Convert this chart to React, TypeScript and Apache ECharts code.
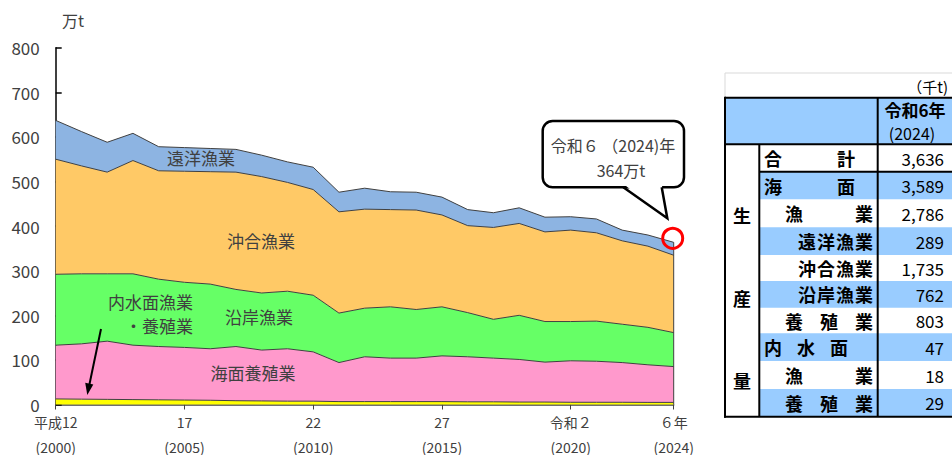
import React, { useEffect, useRef } from 'react';
import * as echarts from 'echarts';

const years = ['2000','2001','2002','2003','2004','2005','2006','2007','2008','2009','2010','2011','2012','2013','2014','2015','2016','2017','2018','2019','2020','2021','2022','2023','2024'];
const inland = [12.5,12,11.5,11,10.5,10,9.5,8.5,8,7.5,7.5,6.5,6.5,6.5,6.5,6.5,6,6,5.5,5.5,5,5,5,4.7,4.7];
const aquaculture = [120.5,124,130.5,122,119.5,118,115.5,121.5,114,117.5,110.5,87.5,100.5,97.5,97.5,102.5,101,98,95.5,89.5,93,92,89,84.3,80.3];
const coastal = [159,157,151,160,151,146,145,128,128,129,127,111,109,115,109,110,99,87,99,91,88,90,86,84,76.2];
const offshore = [258,242,228,254,243,249,252,263,261,244,237,227,222,218,223,206,195,206,206,201,205,198,187,182,173.5];
const distant = [87,77,67,61,54,53,52,51,48,46,50,44,47,40,40,40,36,33,35,33,30,31,24,25,28.9];

const tickYears = ['2000','2005','2010','2015','2020','2024'];
const tickLabelsTop = ['平成12','17','22','27','令和２','６年'];
const tickLabelsBottom = ['(2000)','(2005)','(2010)','(2015)','(2020)','(2024)'];

const seriesNames = ['内水面漁業・養殖業','海面養殖業','沿岸漁業','沖合漁業','遠洋漁業'];
const seriesColors = ['#FFFF00','#FF99CC','#66FF66','#FFC966','#8DB4E2'];

const tableRowLabels = ['合計','海面','漁業','遠洋漁業','沖合漁業','沿岸漁業','養殖業','内水面','漁業','養殖業'];
const tableRowValues = ['3,636','3,589','2,786','289','1,735','762','803','47','18','29'];
const tableSideLabels = ['生','産','量'];

const FONT = '"Noto Sans CJK JP", "Noto Sans", sans-serif';
const TXT = '#404040';
const BLUE = '#99CCFF';

function text(x: number, y: number, s: string, size: number, align = 'center', weight = 'normal', color = TXT) {
  return {
    type: 'text', x, y, silent: true, z: 100,
    style: { text: s, fill: color, fontSize: size, fontFamily: FONT, fontWeight: weight, align, verticalAlign: 'middle' },
  };
}
function line(x1: number, y1: number, x2: number, y2: number, w = 2, color = '#000') {
  return { type: 'line', silent: true, z: 100, shape: { x1, y1, x2, y2 }, style: { stroke: color, lineWidth: w } };
}

function buildTable() {
  const els: any[] = [];
  const x0 = 725, x1 = 759.3, x2 = 877.7, xR = 962;
  const yTop = 73, yHead = 97.7;
  const rows = [144.3, 171.7, 199.3, 227.3, 255, 281, 307.7, 333.3, 361, 389, 416.7];
  els.push({ type: 'rect', silent: true, z: 50, shape: { x: x0, y: yTop, width: xR - x0, height: yHead - yTop }, style: { fill: '#fff', stroke: '#D9D9D9', lineWidth: 1 } });
  els.push(text(948, 86, '（千t)', 15, 'right', 'normal', '#000'));
  els.push({ type: 'rect', silent: true, z: 50, shape: { x: x0, y: yHead, width: xR - x0, height: rows[0] - yHead }, style: { fill: BLUE } });
  els.push(text(915, 109, '令和6年', 17, 'center', 'bold', '#000'));
  els.push(text(912, 133, '(2024)', 16, 'center', 'normal', '#000'));
  for (let i = 0; i < tableRowLabels.length; i++) {
    if (i % 2 === 1) {
      els.push({ type: 'rect', silent: true, z: 50, shape: { x: x1, y: rows[i], width: xR - x1, height: rows[i + 1] - rows[i] }, style: { fill: BLUE } });
    }
  }
  const spans: [number, number][] = [[764, 855], [764, 855], [785, 873], [798, 873], [798, 873], [798, 873], [785, 873], [764, 848], [785, 873], [785, 873]];
  const fs = 18;
  for (let i = 0; i < tableRowLabels.length; i++) {
    const cy = (rows[i] + rows[i + 1]) / 2;
    const chars = Array.from(tableRowLabels[i]);
    const [l, r] = spans[i];
    const step = chars.length > 1 ? (r - l - fs) / (chars.length - 1) : 0;
    chars.forEach((c, k) => els.push(text(l + k * step, cy, c, fs, 'left', 'bold', '#000')));
    els.push(text(944, cy, tableRowValues[i], 17, 'right', 'normal', '#000'));
  }
  const sideY = [215, 297.7, 380];
  tableSideLabels.forEach((c, k) => els.push(text(742, sideY[k], c, 18, 'center', 'bold', '#000')));
  els.push(line(x0, yHead, xR, yHead));
  els.push(line(x0, rows[0], xR, rows[0]));
  els.push(line(x1, rows[1], xR, rows[1]));
  els.push(line(x0, yHead - 1, x0, rows[10] + 1));
  els.push(line(x0 - 1, rows[10], xR, rows[10]));
  els.push(line(x1, rows[0], x1, rows[10]));
  els.push(line(x2, yHead, x2, rows[10]));
  return els;
}

export default function App() {
  const ref = useRef<HTMLDivElement>(null);
  useEffect(() => {
    const chart = echarts.init(ref.current!, undefined, { renderer: 'svg' });
    const data = [inland, aquaculture, coastal, offshore, distant];
    const isTick = (idx: number) => tickYears.indexOf(years[idx]) >= 0;
    chart.setOption({
      animation: false,
      textStyle: { fontFamily: FONT },
      grid: { left: 55.7, right: 278.3, top: 47.7, bottom: 50.5, containLabel: false, outerBoundsMode: 'none' },
      xAxis: {
        type: 'category', data: years, boundaryGap: false,
        axisLine: { lineStyle: { color: '#404040', width: 1.5 } },
        axisTick: { show: true, length: 5, interval: (i: number) => isTick(i), lineStyle: { color: '#404040' } },
        axisLabel: {
          interval: (i: number) => isTick(i), margin: 10, color: TXT, fontFamily: FONT,
          formatter: (v: string) => { const k = tickYears.indexOf(v); return k >= 0 ? '{a|' + tickLabelsTop[k] + '}\n{s| }\n{b|' + tickLabelsBottom[k] + '}' : ''; },
          rich: {
            a: { fontSize: 14, lineHeight: 15, color: TXT, fontFamily: FONT },
            s: { fontSize: 4, lineHeight: 9, color: TXT, fontFamily: FONT },
            b: { fontSize: 14, lineHeight: 16, color: TXT, fontFamily: FONT },
          },
        },
      },
      yAxis: {
        type: 'value', min: 0, max: 800, interval: 100,
        axisLine: { show: true, lineStyle: { color: '#000', width: 1.5 } },
        axisTick: { show: true, inside: true, length: 6, lineStyle: { color: '#000', width: 1.5 } },
        axisLabel: { color: TXT, fontSize: 17, lineHeight: 15, margin: 16, fontFamily: FONT },
        splitLine: { show: false },
      },
      series: data.map((d, i) => ({
        name: seriesNames[i], type: 'line', stack: 'total', data: d, symbol: 'none',
        lineStyle: { color: '#404040', width: 1 },
        areaStyle: { color: seriesColors[i], opacity: 1 },
        itemStyle: { color: seriesColors[i] },
        z: 2,
      })),
    });
    const total = years.map((_, i) => data.reduce((s, d) => s + d[i], 0));
    const last = years.length - 1;
    const pTop = chart.convertToPixel({ xAxisIndex: 0, yAxisIndex: 0 }, [years[last], total[last]]) as number[];
    const pBot = chart.convertToPixel({ xAxisIndex: 0, yAxisIndex: 0 }, [years[last], 0]) as number[];
    const graphic: any[] = [
      text(62, 20, '万t', 16, 'left'),
      text(201, 157, seriesNames[4], 17),
      text(261, 240, seriesNames[3], 17),
      text(259, 316, seriesNames[2], 17),
      text(253, 372, seriesNames[1], 17),
      text(193, 301, '内水面漁業', 17, 'right'),
      text(193, 325, '・養殖業', 17, 'right'),
      line(101, 329, 89.3, 385, 2, '#000'),
      { type: 'polygon', silent: true, z: 100, shape: { points: [[87.3, 395], [93.3, 384.5], [85.2, 382.8]] }, style: { fill: '#000' } },
      line(pTop[0], pTop[1], pBot[0], pBot[1], 1, '#404040'),
      { type: 'circle', silent: true, z: 110, shape: { cx: pTop[0] - 1, cy: pTop[1] - 4, r: 10 }, style: { fill: 'none', stroke: '#FF0000', lineWidth: 3 } },
      { type: 'rect', silent: true, z: 110, shape: { x: 542.7, y: 121, width: 141.3, height: 66.3, r: 10 }, style: { fill: '#fff', stroke: '#000', lineWidth: 2.5 } },
      { type: 'polygon', silent: true, z: 111, shape: { points: [[623.5, 184], [667.3, 218.3], [661.7, 184]] }, style: { fill: '#fff' } },
      { type: 'polyline', silent: true, z: 111, shape: { points: [[623.3, 187.3], [667.3, 218.3], [661.7, 187.3]] }, style: { stroke: '#000', lineWidth: 2.5, fill: 'none' } },
      { ...text(613, 145, '令和６ （2024)年', 16), z: 112 },
      { ...text(621, 170, `${Math.round(total[last])}万t`, 16), z: 112 },
      ...buildTable(),
    ];
    chart.setOption({ graphic });
    return () => chart.dispose();
  }, []);
  return <div ref={ref} style={{ position: 'absolute', left: 0, top: 0, width: 952, height: 455 }} />;
}
